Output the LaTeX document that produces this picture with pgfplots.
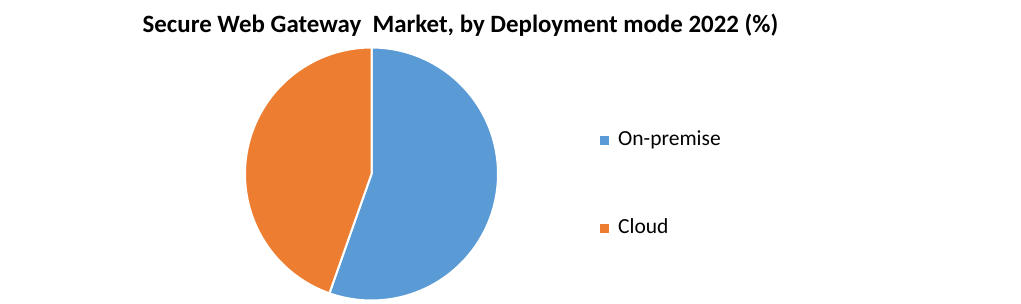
\documentclass[border=0pt]{standalone}
\usepackage{fontspec}
\setmainfont{Carlito}
\usepackage{pgfplots}
\pgfplotsset{compat=1.18}
\definecolor{cblue}{HTML}{5B9BD5}
\definecolor{corange}{HTML}{ED7D31}
% values (%)
\def\vOnprem{55.4}
\def\vCloud{44.6}
\begin{document}
\begin{tikzpicture}
\useasboundingbox (0,0) rectangle (1021bp,304bp);
\pgfmathsetmacro{\aStart}{90-3.6*\vOnprem}
\pgfmathsetmacro{\aEnd}{90+3.6*\vCloud}
\begin{axis}[
  at={(0,0)}, anchor=south west,
  scale only axis, width=1021bp, height=304bp,
  xmin=0, xmax=1021, ymin=-304, ymax=0,
  hide axis, clip=false,
  legend style={at={(axis cs:600,-130.5)}, anchor=north west, draw=none, fill=none,
    inner sep=0pt, row sep=68bp, font=\fontsize{21.5bp}{24bp}\selectfont,
    nodes={inner sep=0pt, text height=15bp, text depth=5bp, anchor=west},
    /tikz/every odd column/.append style={column sep=9bp}},
  legend cell align=left,
  legend image code/.code={\path[#1,draw=none] (0bp,-4.5bp) rectangle (9bp,4.5bp);},
]
\addplot[fill=cblue, draw=white, line width=2bp, domain=\aStart:90, samples=120]
  ({371.5+126.5*cos(x)}, {-174+126.5*sin(x)}) -- (371.5,-174) -- cycle;
\addlegendentry{On-premise}
\addplot[fill=corange, draw=white, line width=2bp, domain=90:\aEnd, samples=120]
  ({371.5+126.5*cos(x)}, {-174+126.5*sin(x)}) -- (371.5,-174) -- cycle;
\addlegendentry{Cloud}
\node[font=\fontsize{24.9bp}{28bp}\selectfont\bfseries, anchor=center] at (460.5,-25) {Secure Web Gateway\ \ Market, by Deployment mode 2022 (\%)};
\end{axis}
\end{tikzpicture}
\end{document}
